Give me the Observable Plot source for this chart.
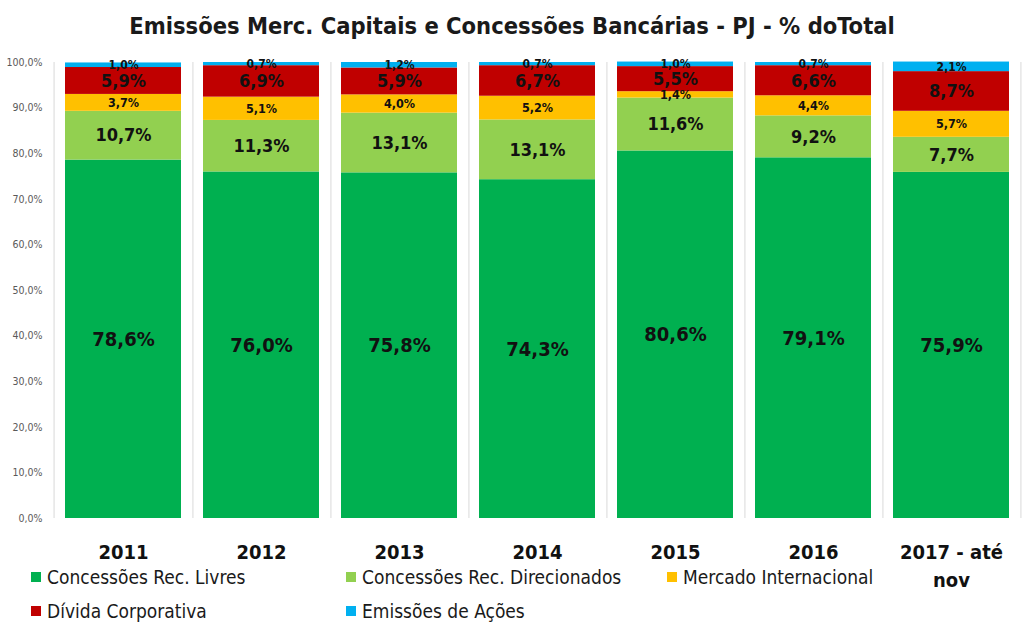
<!DOCTYPE html>
<html>
<head>
<meta charset="utf-8">
<script src="https://cdn.jsdelivr.net/npm/d3@7"></script>
<script src="https://cdn.jsdelivr.net/npm/@observablehq/plot@0.6"></script>
<style>
  html, body { margin: 0; padding: 0; background: #fff; }
  #wrap { position: relative; width: 1024px; height: 640px; overflow: hidden;
          font-family: "DejaVu Sans Condensed", "Liberation Sans Narrow", sans-serif; }
  #title { position: absolute; left: 0; top: 13px; width: 1024px; text-align: center;
           font-size: 23.5px; font-weight: bold; color: #1a1a1a; line-height: 1.15; }
  #chart { position: absolute; left: 0; top: 0; }
  .leg { position: absolute; font-size: 19px; color: #1a1a1a; display: flex; align-items: center; white-space: nowrap; }
  .leg span.sw { display: inline-block; width: 10px; height: 10px; margin-right: 6px; }
</style>
</head>
<body>
<div id="wrap">
  <div id="chart"></div>
  <div id="title">Emissões Merc. Capitais e Concessões Bancárias - PJ - % doTotal</div>
  <div id="legend"></div>
</div>
<script>
const categories = ["2011","2012","2013","2014","2015","2016","2017 - até nov"];
const series = ["Concessões Rec. Livres","Concessões Rec. Direcionados","Mercado Internacional","Dívida Corporativa","Emissões de Ações"];
const livres        = [78.6, 76.0, 75.8, 74.3, 80.6, 79.1, 75.9];
const direcionados  = [10.7, 11.3, 13.1, 13.1, 11.6,  9.2,  7.7];
const internacional = [ 3.7,  5.1,  4.0,  5.2,  1.4,  4.4,  5.7];
const divida        = [ 5.9,  6.9,  5.9,  6.7,  5.5,  6.6,  8.7];
const acoes         = [ 1.0,  0.7,  1.2,  0.7,  1.0,  0.7,  2.1];
const yTicks = [0,10,20,30,40,50,60,70,80,90,100];
const colors = ["#00B050","#92D050","#FFC000","#C00000","#00B0F0"];

const seriesValues = [livres, direcionados, internacional, divida, acoes];
const data = [];
series.forEach((s, si) => categories.forEach((c, ci) => data.push({cat: c, series: s, value: seriesValues[si][ci]})));

const labelSize = {
  "Concessões Rec. Livres": 20,
  "Concessões Rec. Direcionados": 18,
  "Mercado Internacional": 12.5,
  "Dívida Corporativa": 18,
  "Emissões de Ações": 12
};

const W = 1024, H = 640, ml = 51, mr = 1, mt = 62, mb = 122;
const bw = (W - ml - mr) / categories.length;
const fmt = v => v.toFixed(1).replace(".", ",") + "%";
const font = '"DejaVu Sans Condensed", "Liberation Sans Narrow", sans-serif';

const chart = Plot.plot({
  width: W, height: H,
  marginLeft: ml, marginRight: mr, marginTop: mt, marginBottom: mb,
  style: { fontFamily: font, background: "#fff" },
  x: { domain: categories, padding: 0, label: null },
  y: { domain: [0, 100], label: null },
  color: { domain: series, range: colors },
  marks: [
    Plot.tickX(categories, { x: d => d, dx: bw / 2, stroke: "#d9d9d9", strokeWidth: 1 }),
    Plot.tickX(categories.slice(0, 1), { x: d => d, dx: -bw / 2, stroke: "#d9d9d9", strokeWidth: 1 }),
    Plot.barY(data, Plot.stackY({ x: "cat", y: "value", z: "series", fill: "series", order: series, insetLeft: 11, insetRight: 11 })),
    Plot.text(data, Plot.stackY({ x: "cat", y: "value", z: "series", order: series,
      text: d => fmt(d.value), fontSize: d => labelSize[d.series], fontWeight: "bold", fill: "#111" })),
    Plot.axisY({ ticks: yTicks, tickFormat: fmt, tickSize: 0, tickPadding: 9, fontSize: 10.5, fill: "#595959", label: null }),
    Plot.axisX({ tickSize: 0, tickPadding: 21, fontSize: 20, fontWeight: "bold", fill: "#111", lineHeight: 1.4,
      tickFormat: d => d.replace(" nov", "\nnov"), label: null })
  ]
});
document.getElementById("chart").appendChild(chart);

const legPos = [[31, 578], [346, 578], [667, 578], [31, 612], [346, 612]];
const leg = document.getElementById("legend");
series.forEach((s, i) => {
  const d = document.createElement("div");
  d.className = "leg";
  d.style.left = legPos[i][0] + "px";
  d.style.top = (legPos[i][1] - 12) + "px";
  d.innerHTML = `<span class="sw" style="background:${colors[i]}"></span>${s}`;
  leg.appendChild(d);
});
</script>
</body>
</html>
